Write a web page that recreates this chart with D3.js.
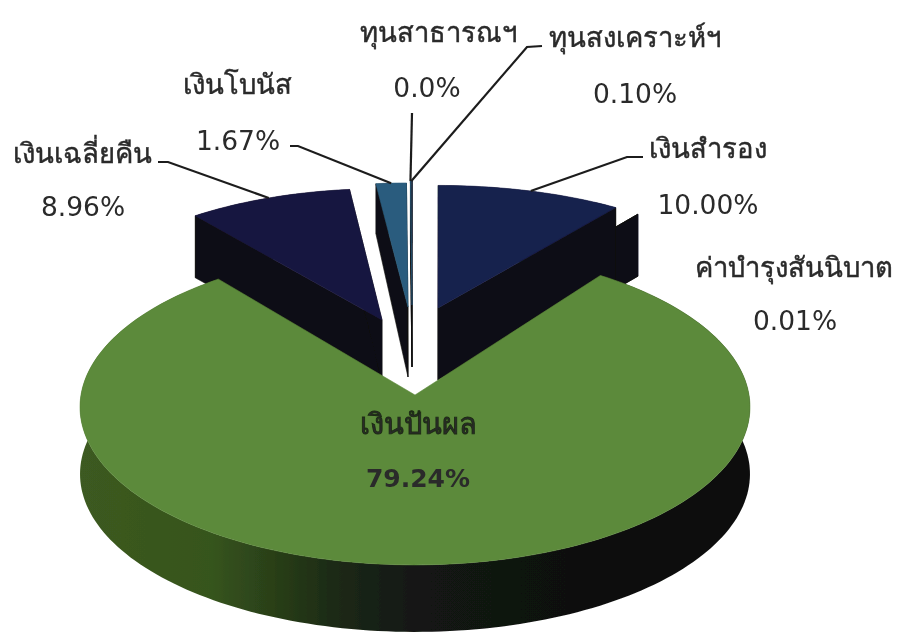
<!DOCTYPE html>
<html>
<head>
<meta charset="utf-8">
<script src="https://cdn.jsdelivr.net/npm/d3@7"></script>
<style>
  html, body { margin: 0; background: #fff; }
  svg { display: block; }
  text { font-family: "DejaVu Sans", "Noto Sans", sans-serif; fill: #2a2a2a; text-anchor: middle; dominant-baseline: central; }
</style>
</head>
<body>
<svg id="chart" width="901" height="632"></svg>
<script>
// order follows the pie clockwise, starting at the green slice
const categories = ['เงินปันผล', 'เงินเฉลี่ยคืน', 'เงินโบนัส', 'ทุนสาธารณฯ', 'ทุนสงเคราะห์ฯ', 'เงินสำรอง', 'ค่าบำรุงสันนิบาต'];
const values = [79.24, 8.96, 1.67, 0.0, 0.10, 10.00, 0.01];
const valueLabels = ['79.24%', '8.96%', '1.67%', '0.0%', '0.10%', '10.00%', '0.01%'];
const topColors = ['#5c8a3b', '#191540', '#2a5c7e', '#2a5c7e', '#2b3a50', '#18204d', '#111013'];

// layout, one row per category
const apexDx = [0, -33, -7, -3, -3, 23, 45];
const apexDy = [0, -75, -88, -90, -90, -87, -78];
const shrinkX = [1, 0.95, 0.94, 0.94, 0.94, 0.96, 0.96];   // pulled-out slices sit further away
const shrinkY = [1, 0.90, 0.85, 0.85, 0.85, 0.84, 0.86];
const depths = [67, 62, 50, 62, 62, 72, 62];
const labelX = [418, 82, 237, 438, 635, 708, 794];
const nameY = [424, 153, 84, 32, 37, 148, 267];
const valueX = [418, 83, 238, 427, 635, 708, 795];
const valueY = [478, 206, 140, 87, 93, 204, 320];

const cx = 415, cy = 395;
const radiusX = 334, radiusY = 157, perspective = 0.076;
const sideColor = '#111013';
const startDeg = 36.1;

const svg = d3.select('#chart');

const pie = d3.pie().sort(null).value(d => d)
    .startAngle(startDeg * Math.PI / 180)
    .endAngle(startDeg * Math.PI / 180 + 2 * Math.PI);
const slices = pie(values);

const sx = d3.scaleLinear().domain([-1, 1]).range([-radiusX, radiusX]);
const sy = d3.scaleLinear().domain([-1, 1]).range([radiusY, -radiusY]);

// angle on the flat pie -> picture position of the rim, for slice i
function rim(i, a) {
    const X = Math.sin(a), Y = Math.cos(a);
    const w = 1 + perspective * Y;
    return [cx + apexDx[i] + sx(X / w) * shrinkX[i], cy + apexDy[i] + sy(Y / w) * shrinkY[i]];
}
function apex(i) { return [cx + apexDx[i], cy + apexDy[i]]; }

function rimPoints(i, d) {
    const n = Math.max(2, Math.ceil((d.endAngle - d.startAngle) * 40));
    return d3.range(n + 1).map(k => rim(i, d.startAngle + (d.endAngle - d.startAngle) * k / n));
}

const line = d3.line();
const closed = pts => line(pts) + 'Z';
const down = (pts, h) => pts.map(p => [p[0], p[1] + h]);

const defs = svg.append('defs');
const grad = defs.append('linearGradient').attr('id', 'greenSide')
    .attr('gradientUnits', 'userSpaceOnUse')
    .attr('x1', 78).attr('x2', 752).attr('y1', 0).attr('y2', 0);
[[0, '#3c5a20'], [0.2, '#36541d'], [0.38, '#1c2a14'], [0.52, '#121412'], [1, '#0d0d0d']]
    .forEach(s => grad.append('stop').attr('offset', s[0]).attr('stop-color', s[1]));
defs.append('filter').attr('id', 'soft').append('feGaussianBlur').attr('stdDeviation', 0.6);

const g = svg.append('g').attr('filter', 'url(#soft)');

// back to front
const drawOrder = [6, 5, 4, 3, 2, 1, 0];
drawOrder.forEach(i => {
    const d = slices[i];
    const pts = rimPoints(i, d);
    const a = apex(i);
    const depth = depths[i];
    if (i === 0) {
        g.append('path').attr('d', closed(pts.concat(down(pts, depth).reverse())))
            .attr('fill', 'url(#greenSide)');
    } else {
        const first = pts[0], last = pts[pts.length - 1];
        [[a, first], [a, last]].forEach(e => {
            const bottom = i === 2 ? [[a[0], a[1] + 70], [e[1][0], e[1][1] + depth]] : down(e, depth);
            g.append('path').attr('d', closed(e.concat(bottom.slice().reverse())))
                .attr('fill', sideColor).attr('stroke', sideColor).attr('stroke-width', 0.6);
        });
        g.append('path').attr('d', closed(pts.concat(down(pts, depth).reverse())))
            .attr('fill', sideColor);
    }
    g.append('path').attr('d', closed([a].concat(pts)))
        .attr('fill', topColors[i])
        .attr('stroke', topColors[i]).attr('stroke-width', 0.6);
});

// leader lines: label end, elbow, then the slice rim at its mid angle
const leaderFrom = { 1: [[158, 162], [168, 162]], 2: [[290, 146], [298, 146]], 3: [[412, 113]], 4: [[542, 46], [527, 47]], 5: [[643, 157], [627, 157]] };
Object.keys(leaderFrom).forEach(k => {
    const i = +k, d = slices[i];
    const end = rim(i, (d.startAngle + d.endAngle) / 2);
    g.append('path').attr('d', line(leaderFrom[k].concat([end])))
        .attr('fill', 'none').attr('stroke', '#1c1c1c').attr('stroke-width', 2.2);
});

categories.forEach((c, i) => {
    const big = i === 0;
    g.append('text').attr('x', labelX[i]).attr('y', nameY[i]).text(c)
        .attr('font-size', big ? 29 : 27.5)
        .attr('stroke', big ? '#1c2a14' : '#2a2a2a').attr('stroke-width', big ? 0.9 : 0.45);
    g.append('text').attr('x', valueX[i]).attr('y', valueY[i]).text(valueLabels[i])
        .attr('font-size', big ? 25 : 26.5).attr('font-weight', big ? 700 : 400)
        .attr('fill', big ? '#1c2a14' : '#2a2a2a');
});
</script>
</body>
</html>
